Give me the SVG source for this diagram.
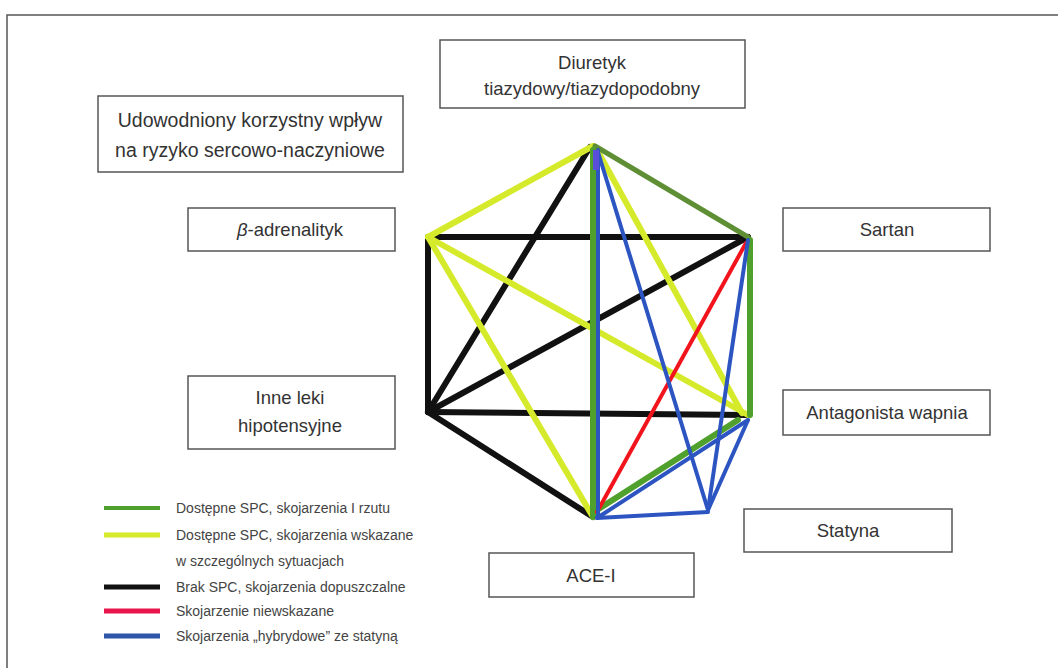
<svg xmlns="http://www.w3.org/2000/svg" width="1058" height="668" viewBox="0 0 1058 668">
<style>
.box{fill:#fff;stroke:#555;stroke-width:1.5}
.t{font-family:"Liberation Sans",Arial,sans-serif;font-size:18.5px;fill:#333}
.c{text-anchor:middle}
.k{stroke:#111;stroke-width:6;fill:none;stroke-linecap:round}
.y{stroke:#d6ea2c;stroke-width:6;fill:none;stroke-linecap:round}
.g{stroke:#4fa02c;stroke-width:6;fill:none;stroke-linecap:round}
.g2{stroke:#5e8f34;stroke-width:5;fill:none;stroke-linecap:round}
.r{stroke:#f2141c;stroke-width:4;fill:none;stroke-linecap:round}
.b{stroke:#2d55c2;stroke-width:4;fill:none;stroke-linecap:round}
.lg{font-family:"Liberation Sans",Arial,sans-serif;font-size:14px;fill:#444}
</style>
<rect width="1058" height="668" fill="#fff"/>
<path d="M7,668 V15 H1058" fill="none" stroke="#555" stroke-width="1.5"/>
<g id="connectors">
<line class="k" x1="428" y1="237" x2="748" y2="237"/>
<line class="k" x1="428" y1="237" x2="428" y2="412"/>
<line class="k" x1="428" y1="412" x2="748" y2="415"/>
<line class="k" x1="428" y1="412" x2="593" y2="517"/>
<line class="k" x1="428" y1="412" x2="748" y2="237"/>
<line class="k" x1="428" y1="412" x2="590" y2="147"/>
<line class="y" x1="593" y1="146" x2="428" y2="237"/>
<line class="y" x1="428" y1="237" x2="748" y2="415"/>
<line class="y" x1="428" y1="237" x2="593" y2="517"/>
<line class="y" x1="596" y1="148" x2="742" y2="413"/>
<line class="g2" x1="595" y1="146" x2="748" y2="237"/>
<line class="g" x1="750" y1="240" x2="750" y2="415"/>
<line class="g" x1="593" y1="150" x2="593" y2="517"/>
<line class="g" x1="738" y1="420" x2="597" y2="510"/>
<line class="r" x1="746" y1="243" x2="597" y2="512"/>
<line class="b" x1="598" y1="150" x2="598" y2="517"/>
<line class="b" x1="598" y1="152" x2="708" y2="510"/>
<line class="b" x1="748" y1="240" x2="708" y2="510"/>
<line class="b" x1="748" y1="420" x2="708" y2="510"/>
<line class="b" x1="748" y1="420" x2="597" y2="518"/>
<line class="b" x1="597" y1="518" x2="708" y2="512"/>
<line x1="596" y1="150" x2="596" y2="170" stroke="#5a4fd8" stroke-width="6"/>
</g>
<g id="diuretyk"><rect class="box" x="440" y="40" width="305" height="68"/>
<text class="t c" x="592" y="69">Diuretyk</text><text class="t c" x="592" y="95">tiazydowy/tiazydopodobny</text></g>
<g id="udowodniony"><rect class="box" x="98" y="96" width="305" height="76"/>
<text class="t c" x="250" y="127" style="font-size:19.5px">Udowodniony korzystny wpływ</text><text class="t c" x="250" y="157" style="font-size:19.5px">na ryzyko sercowo-naczyniowe</text></g>
<g id="beta"><rect class="box" x="188" y="208" width="207" height="43"/>
<text class="t c" x="290" y="236"><tspan font-style="italic">β</tspan>-adrenalityk</text></g>
<g id="sartan"><rect class="box" x="783" y="208" width="207" height="43"/>
<text class="t c" x="887" y="236">Sartan</text></g>
<g id="inne"><rect class="box" x="188" y="376" width="207" height="73"/>
<text class="t c" x="290" y="404">Inne leki</text><text class="t c" x="290" y="432">hipotensyjne</text></g>
<g id="antagonista"><rect class="box" x="783" y="390" width="207" height="45"/>
<text class="t c" x="887" y="419">Antagonista wapnia</text></g>
<g id="statyna"><rect class="box" x="744" y="509" width="208" height="43"/>
<text class="t c" x="848" y="537">Statyna</text></g>
<g id="acei"><rect class="box" x="489" y="553" width="205" height="44"/>
<text class="t c" x="591" y="582">ACE-I</text></g>
<g id="legend">
<line x1="104" y1="508" x2="160" y2="508" stroke="#4fa02c" stroke-width="4"/>
<line x1="104" y1="535" x2="160" y2="535" stroke="#d6ea2c" stroke-width="5"/>
<line x1="104" y1="587" x2="160" y2="587" stroke="#111" stroke-width="5"/>
<line x1="104" y1="611" x2="160" y2="611" stroke="#e8144a" stroke-width="5"/>
<line x1="104" y1="636" x2="160" y2="636" stroke="#2d55a8" stroke-width="5"/>
<text class="lg" x="176" y="513">Dostępne SPC, skojarzenia I rzutu</text>
<text class="lg" x="176" y="540">Dostępne SPC, skojarzenia wskazane</text>
<text class="lg" x="176" y="566">w szczególnych sytuacjach</text>
<text class="lg" x="176" y="592">Brak SPC, skojarzenia dopuszczalne</text>
<text class="lg" x="176" y="616">Skojarzenie niewskazane</text>
<text class="lg" x="176" y="641">Skojarzenia „hybrydowe” ze statyną</text>
</g>
</svg>
